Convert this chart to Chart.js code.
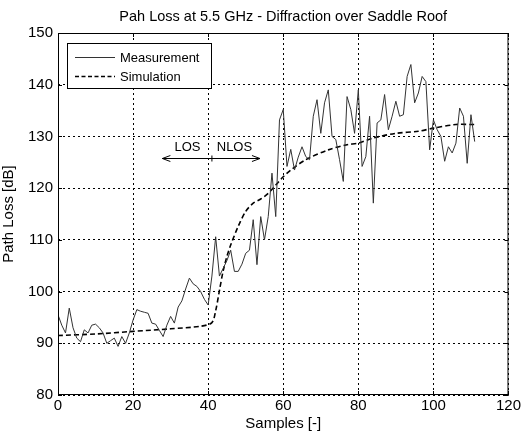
<!DOCTYPE html>
<html>
<head>
<meta charset="utf-8">
<script src="https://cdn.jsdelivr.net/npm/chart.js@4"></script>
<style>
  html, body { margin: 0; padding: 0; background: #fff; }
  #wrap { width: 523px; height: 434px; }
</style>
</head>
<body>
<div id="wrap"><canvas id="c" width="523" height="434"></canvas></div>
<script>
/* ---------- data ---------- */
const measured = [
  95.5, 93.5, 92, 96.8, 93, 91, 90.3, 92.6, 92, 93.5,
  93.7, 93, 92, 90, 90.5, 91, 89.4, 91.3, 90, 92,
  94.5, 96.5, 96.2, 96, 95.8, 93.9, 93.7, 92.5, 91.3, 93.5,
  95.2, 93.9, 97, 98.2, 100.5, 102.6, 101.5, 101, 100, 98.5,
  97.4, 103, 110.6, 103, 104.5, 106, 108, 103.9, 103.9, 105.3,
  107.4, 108, 113.9, 105.2, 114.5, 110, 114.5, 122.9, 114.5, 133.2,
  135.2, 124.2, 127.5, 123.5, 126, 128, 126.1, 125.5, 133.9, 137.1,
  130.6, 136.5, 139, 130, 129.4, 125.5, 121.3, 137.7, 135.2, 130.6,
  139, 124.2, 126.1, 133.9, 117.1, 132.6, 133.2, 138.1, 131.3, 133.9,
  136.8, 133.9, 134.2, 141.6, 143.9, 136.5, 138.4, 141.6, 140.6, 127.4,
  133.2, 131.3, 130, 125.2, 128, 126.8, 128.7, 135.5, 133.9, 124.8,
  134.2, 129
];
const simX = [0, 10, 20, 30, 38, 41, 42, 43, 44, 45, 46, 48, 50, 52, 54, 56, 58, 60, 62, 66, 72, 77, 80, 84, 90, 96, 100, 106, 111];
const simY = [91.5, 91.8, 92.3, 92.8, 93.3, 94, 96.3, 100.2, 104, 106.8, 109, 112.6, 115.5, 117.1, 117.9, 119, 120.6, 122.2, 123.5, 125.5, 127.4, 128.4, 128.7, 129.7, 130.6, 131, 131.6, 132.3, 132.3];
const xTicks = [0, 20, 40, 60, 80, 100, 120];
const yTicks = [80, 90, 100, 110, 120, 130, 140, 150];

const FONT = '"Liberation Sans", Arial, sans-serif';

/* ---------- frame, inner ticks, title, legend, LOS/NLOS note ---------- */
const matlabBits = {
  id: 'matlabBits',
  afterDraw(chart) {
    const { ctx, chartArea: a, scales: { x, y } } = chart;
    ctx.save();
    ctx.setLineDash([]);
    ctx.strokeStyle = '#000';
    ctx.lineWidth = 1;
    ctx.strokeRect(a.left + 0.5, a.top + 0.5, a.right - a.left - 1, a.bottom - a.top - 1);

    ctx.beginPath();
    xTicks.forEach(t => {
      const px = Math.round(x.getPixelForValue(t)) + 0.5;
      ctx.moveTo(px, a.bottom); ctx.lineTo(px, a.bottom - 4);
      ctx.moveTo(px, a.top); ctx.lineTo(px, a.top + 4);
    });
    yTicks.forEach(t => {
      const py = Math.round(y.getPixelForValue(t)) + 0.5;
      ctx.moveTo(a.left, py); ctx.lineTo(a.left + 4, py);
      ctx.moveTo(a.right, py); ctx.lineTo(a.right - 4, py);
    });
    ctx.stroke();

    // title
    ctx.fillStyle = '#000';
    ctx.font = '14.5px ' + FONT;
    ctx.textAlign = 'center';
    ctx.textBaseline = 'middle';
    ctx.fillText('Pah Loss at 5.5 GHz - Diffraction over Saddle Roof', (a.left + a.right) / 2, 17);

    // legend
    const lx = 67, ly = 43, lw = 144, lh = 45;
    ctx.fillStyle = '#fff';
    ctx.fillRect(lx, ly, lw, lh);
    ctx.strokeRect(lx + 0.5, ly + 0.5, lw, lh);
    ctx.beginPath();
    ctx.strokeStyle = '#333';
    ctx.moveTo(75, 57.5); ctx.lineTo(115, 57.5);
    ctx.stroke();
    ctx.beginPath();
    ctx.strokeStyle = '#000';
    ctx.lineWidth = 1.3;
    ctx.setLineDash([4, 2.5]);
    ctx.moveTo(75, 76.5); ctx.lineTo(115, 76.5);
    ctx.stroke();
    ctx.setLineDash([]);
    ctx.fillStyle = '#000';
    ctx.font = '13px ' + FONT;
    ctx.textAlign = 'left';
    ctx.fillText('Measurement', 120, 58);
    ctx.fillText('Simulation', 120, 77);

    // LOS / NLOS arrow
    const ay = Math.round(y.getPixelForValue(125.9)) + 0.5;
    const x1 = x.getPixelForValue(27.8), x2 = x.getPixelForValue(53.8), xm = x.getPixelForValue(41);
    ctx.lineWidth = 1;
    ctx.beginPath();
    ctx.moveTo(x1, ay); ctx.lineTo(x2, ay);
    ctx.moveTo(x1 + 8, ay - 3); ctx.lineTo(x1, ay); ctx.lineTo(x1 + 8, ay + 3);
    ctx.moveTo(x2 - 8, ay - 3); ctx.lineTo(x2, ay); ctx.lineTo(x2 - 8, ay + 3);
    ctx.moveTo(xm, ay - 3); ctx.lineTo(xm, ay + 3);
    ctx.stroke();
    ctx.font = '13px ' + FONT;
    ctx.textAlign = 'center';
    ctx.fillText('LOS', x.getPixelForValue(34.5), ay - 11);
    ctx.fillText('NLOS', x.getPixelForValue(47), ay - 11);
    ctx.restore();
  }
};

new Chart(document.getElementById('c'), {
  type: 'line',
  data: {
    datasets: [
      {
        label: 'Measurement',
        data: measured.map((v, i) => ({ x: i, y: v })),
        borderColor: '#333',
        borderWidth: 1,
        pointRadius: 0,
        tension: 0,
      },
      {
        label: 'Simulation',
        data: simX.map((v, i) => ({ x: v, y: simY[i] })),
        borderColor: '#000',
        borderWidth: 1.6,
        borderDash: [5, 3],
        pointRadius: 0,
        tension: 0.3,
      },
    ],
  },
  options: {
    responsive: false,
    animation: false,
    layout: { padding: { top: 33, right: 11, left: 0, bottom: 0 } },
    plugins: { legend: { display: false }, tooltip: { enabled: false }, title: { display: false } },
    scales: {
      x: {
        type: 'linear', min: 0, max: 120,
        afterBuildTicks: s => { s.ticks = xTicks.map(v => ({ value: v })); },
        afterFit: s => { s.height = 39; },
        grid: { color: '#000', lineWidth: 1, drawTicks: false },
        border: { display: false, dash: [2, 3] },
        ticks: { color: '#000', font: { family: FONT, size: 15 }, padding: 2, maxRotation: 0 },
        title: { display: true, text: 'Samples [-]', color: '#000', font: { family: FONT, size: 15 }, padding: { top: 0, bottom: 1 } },
      },
      y: {
        type: 'linear', min: 80, max: 150,
        afterBuildTicks: s => { s.ticks = yTicks.map(v => ({ value: v })); },
        afterFit: s => { s.width = 58; },
        grid: { color: '#000', lineWidth: 1, drawTicks: false },
        border: { display: false, dash: [2, 3] },
        ticks: { color: '#000', font: { family: FONT, size: 15 }, padding: 5 },
        title: { display: true, text: 'Path Loss [dB]', color: '#000', font: { family: FONT, size: 15 }, padding: { top: 0, bottom: 2 } },
      },
    },
  },
  plugins: [matlabBits],
});
</script>
</body>
</html>
